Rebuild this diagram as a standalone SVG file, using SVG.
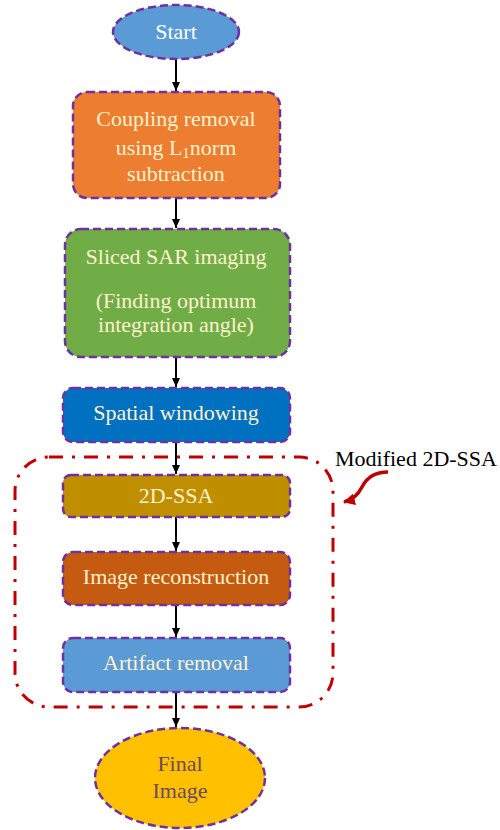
<svg xmlns="http://www.w3.org/2000/svg" width="500" height="830" viewBox="0 0 500 830">
<style>
.node{stroke:#7030a0;stroke-width:2.5;stroke-dasharray:8 4}
.t{font-family:"Liberation Serif","Times New Roman",serif;font-size:22px;fill:#fff2cc;text-anchor:middle}
.conn{stroke:#000;stroke-width:2;fill:none;marker-end:url(#ah)}
</style>
<defs>
<marker id="ah" markerWidth="10" markerHeight="10" refX="9" refY="5" orient="auto" markerUnits="userSpaceOnUse">
<path d="M0,1 L9,5 L0,9 Z" fill="#000"/>
</marker>
<marker id="rah" markerWidth="14" markerHeight="14" refX="11" refY="7" orient="auto" markerUnits="userSpaceOnUse">
<path d="M0,1 L12,7 L0,13 Z" fill="#c00000"/>
</marker>
</defs>
<rect width="500" height="830" fill="#fff"/>
<g id="group-modified">
<rect x="15" y="457" width="318" height="250" rx="34" fill="none" stroke="#c00000" stroke-width="3" stroke-dasharray="14 9 3 9"/>
<text x="335" y="466" style="font-family:'Liberation Serif','Times New Roman',serif;font-size:22px;fill:#000">Modified 2D-SSA</text>
<path d="M388 472 C374 472 366 479 362 487 S352 500 344 502" fill="none" stroke="#c00000" stroke-width="3.5" marker-end="url(#rah)"/>
</g>
<g id="connectors">
<line class="conn" x1="176" y1="59" x2="176" y2="91"/>
<line class="conn" x1="176" y1="198" x2="176" y2="228"/>
<line class="conn" x1="176" y1="357" x2="176" y2="387"/>
<line class="conn" x1="176" y1="442" x2="176" y2="474"/>
<line class="conn" x1="176" y1="517" x2="176" y2="551"/>
<line class="conn" x1="176" y1="605" x2="176" y2="637"/>
<line class="conn" x1="176" y1="692" x2="176" y2="727"/>
</g>
<g id="start">
<ellipse class="node" cx="176" cy="32" rx="63" ry="27" fill="#5b9bd5"/>
<text class="t" x="176" y="39" style="fill:#fff">Start</text>
</g>
<g id="coupling">
<rect class="node" x="73" y="92" width="207" height="106" rx="14" fill="#ed7d31"/>
<text class="t" x="176" y="126">Coupling removal</text>
<text class="t" x="176" y="155">using L<tspan font-size="15" dy="3">1</tspan><tspan dy="-3">norm</tspan></text>
<text class="t" x="176" y="181">subtraction</text>
</g>
<g id="sliced">
<rect class="node" x="65" y="229" width="225" height="128" rx="16" fill="#70ad47"/>
<text class="t" x="176" y="264">Sliced SAR imaging</text>
<text class="t" x="176" y="308">(Finding optimum</text>
<text class="t" x="176" y="332">integration angle)</text>
</g>
<g id="spatial">
<rect class="node" x="63" y="388" width="227" height="54" rx="10" fill="#0070c0"/>
<text class="t" x="176" y="420">Spatial windowing</text>
</g>
<g id="ssa">
<rect class="node" x="63" y="475" width="227" height="42" rx="8" fill="#bf8f00"/>
<text class="t" x="176" y="503">2D-SSA</text>
</g>
<g id="recon">
<rect class="node" x="63" y="552" width="227" height="53" rx="10" fill="#c55a11"/>
<text class="t" x="176" y="584">Image reconstruction</text>
</g>
<g id="artifact">
<rect class="node" x="63" y="638" width="227" height="54" rx="10" fill="#5b9bd5"/>
<text class="t" x="176" y="670">Artifact removal</text>
</g>
<g id="final">
<ellipse class="node" cx="180" cy="778" rx="85" ry="50" fill="#ffc000"/>
<text class="t" x="180" y="771" style="fill:#6e4a5e">Final</text>
<text class="t" x="180" y="798" style="fill:#6e4a5e">Image</text>
</g>
</svg>
